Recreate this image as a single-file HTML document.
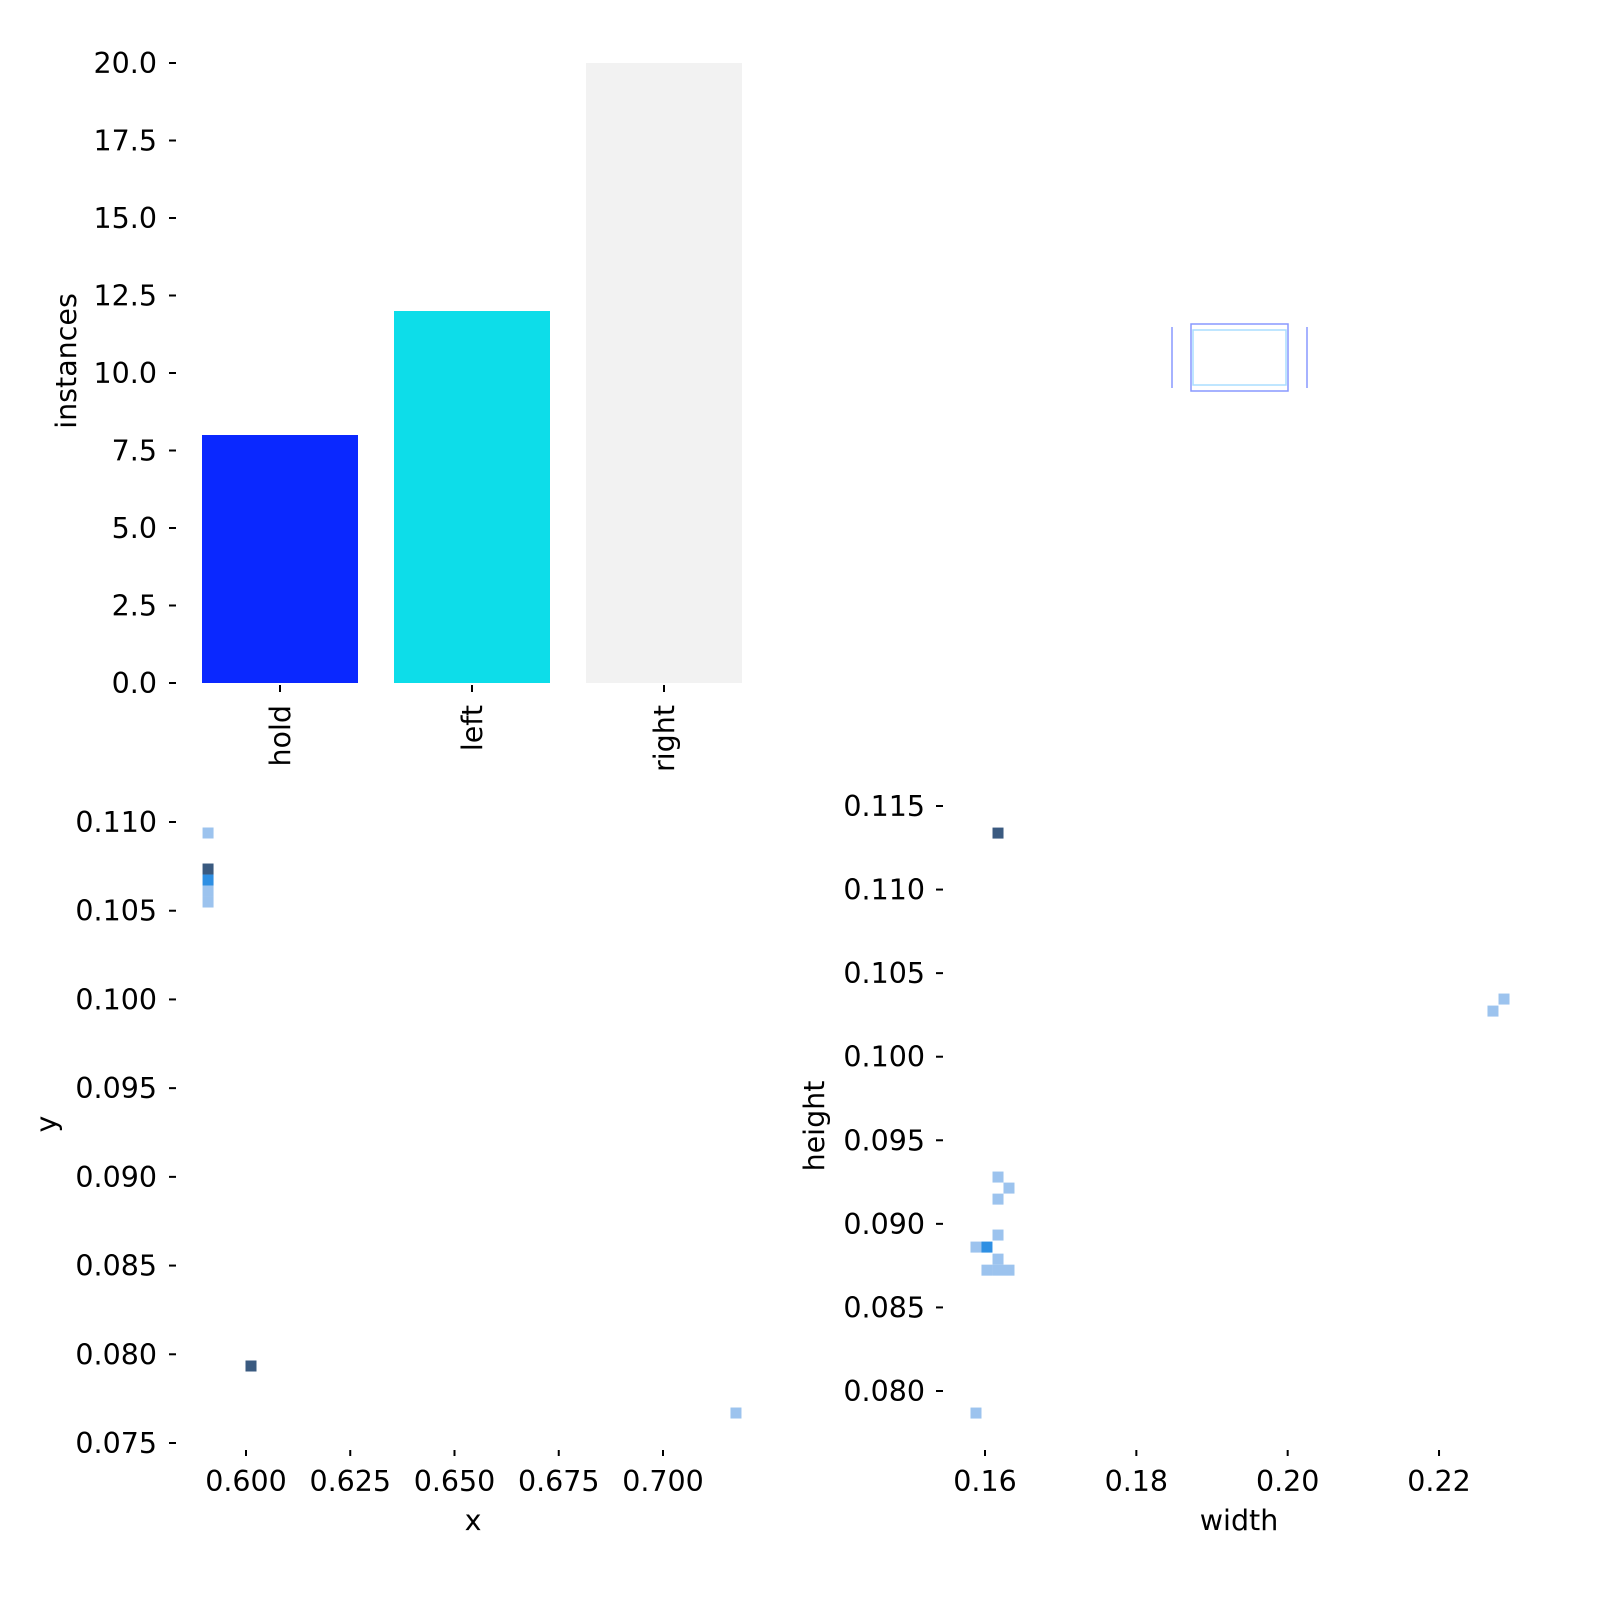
<!DOCTYPE html>
<html><head><meta charset="utf-8"><style>
html,body{margin:0;padding:0;background:#fff;overflow:hidden}
svg{display:block;font-family:"DejaVu Sans","Liberation Sans",sans-serif}
</style></head><body>
<svg id="c" width="1600" height="1600" viewBox="0 0 1600 1600"></svg>
<script>
const barCats=["hold","left","right"];
const barVals=[8,12,20];
const barColors=["#0a28ff","#0ddde9","#f2f2f2"];
const barTicks=[0,2.5,5,7.5,10,12.5,15,17.5,20];

const xyX=[0.5909,0.5909,0.5909,0.5909,0.5909,0.6012,0.7175];
const xyY=[0.10938,0.10735,0.10673,0.10611,0.10549,0.07934,0.07669];
const xyC=[1,3,2,1,1,3,1];
const xyXT=[0.600,0.625,0.650,0.675,0.700];
const xyYT=[0.075,0.080,0.085,0.090,0.095,0.100,0.105,0.110];

const whX=[0.16172,0.22713,0.22859,0.16172,0.16317,0.16172,0.16172,0.15881,0.16026,0.16172,0.16026,0.16172,0.16317,0.15881];
const whY=[0.11338,0.10273,0.10345,0.09280,0.09214,0.09148,0.08933,0.08861,0.08861,0.08789,0.08723,0.08723,0.08723,0.07868];
const whC=[3,1,1,1,1,1,1,1,2,1,1,1,1,1];
const whXT=[0.16,0.18,0.20,0.22];
const whYT=[0.080,0.085,0.090,0.095,0.100,0.105,0.110,0.115];

const NS="http://www.w3.org/2000/svg";
const svg=document.getElementById('c');
const cellCol={1:"#9cc3ee",2:"#2e8fe3",3:"#3a5a80"};
const FS=28.5;
function mk(t,a,p){const e=document.createElementNS(NS,t);for(const k in a)e.setAttribute(k,a[k]);(p||svg).appendChild(e);return e;}
function txt(x,y,s,anchor,rot){const e=mk('text',{x:x,y:y,'font-size':FS,fill:'#000','text-anchor':anchor||'middle'});if(rot)e.setAttribute('transform',`rotate(-90 ${x} ${y})`);e.textContent=s;return e;}

// bar chart
const by=v=>683-v*31, bx=i=>280+i*192;
barVals.forEach((v,i)=>{
 const r=mk('rect',{x:bx(i)-78,y:by(v),width:156,height:by(0)-by(v),fill:barColors[i]});
 
 
 mk('line',{x1:bx(i),x2:bx(i),y1:685,y2:692,stroke:'#000','stroke-width':2});
 const t=txt(bx(i)+10,705,barCats[i],'end',true);
 
 
});
barTicks.forEach(v=>{
 mk('line',{x1:169,x2:176,y1:by(v),y2:by(v),stroke:'#000','stroke-width':2});
 txt(157,by(v)+10,v.toFixed(1),'end');
});
const yl=txt(76,361,'instances','middle',true);



// boxes panel
const bg=mk('g',{});


mk('rect',{x:1191,y:324,width:97,height:67,fill:'none',stroke:'#8899ff','stroke-width':1.5},bg);
mk('rect',{x:1193,y:330,width:93,height:55,fill:'none',stroke:'#aaddff','stroke-width':1.5},bg);
mk('line',{x1:1172,x2:1172,y1:327,y2:388,stroke:'#8899ff','stroke-width':1.5},bg);
mk('line',{x1:1307,x2:1307,y1:327,y2:388,stroke:'#8899ff','stroke-width':1.5},bg);

// x-y heatmap
const ax=v=>246+(v-0.6)*4170, ay=v=>822-(v-0.110)*17743;
xyX.forEach((v,i)=>{
 const r=mk('rect',{x:ax(v)-5.5,y:ay(xyY[i])-5.5,width:11,height:11,fill:cellCol[xyC[i]]});
 
 
});
xyXT.forEach(v=>{mk('line',{x1:ax(v),x2:ax(v),y1:1450,y2:1456,stroke:'#000','stroke-width':2});txt(ax(v),1491,v.toFixed(3));});
xyYT.forEach(v=>{mk('line',{x1:169,x2:176,y1:ay(v),y2:ay(v),stroke:'#000','stroke-width':2});txt(157,ay(v)+10,v.toFixed(3),'end');});
let t=txt(473,1530,'x');
t=txt(56,1124,'y','middle',true);

// width-height heatmap
const wx=v=>985+(v-0.16)*7567, wy=v=>806-(v-0.115)*16714;
whX.forEach((v,i)=>{
 const r=mk('rect',{x:wx(v)-5.5,y:wy(whY[i])-5.5,width:11,height:11,fill:cellCol[whC[i]]});
 
 
});
whXT.forEach(v=>{mk('line',{x1:wx(v),x2:wx(v),y1:1450,y2:1456,stroke:'#000','stroke-width':2});txt(wx(v),1491,v.toFixed(2));});
whYT.forEach(v=>{mk('line',{x1:936,x2:943,y1:wy(v),y2:wy(v),stroke:'#000','stroke-width':2});txt(925,wy(v)+10,v.toFixed(3),'end');});
t=txt(1239,1530,'width');
t=txt(824,1126,'height','middle',true);
</script>
</body></html>
